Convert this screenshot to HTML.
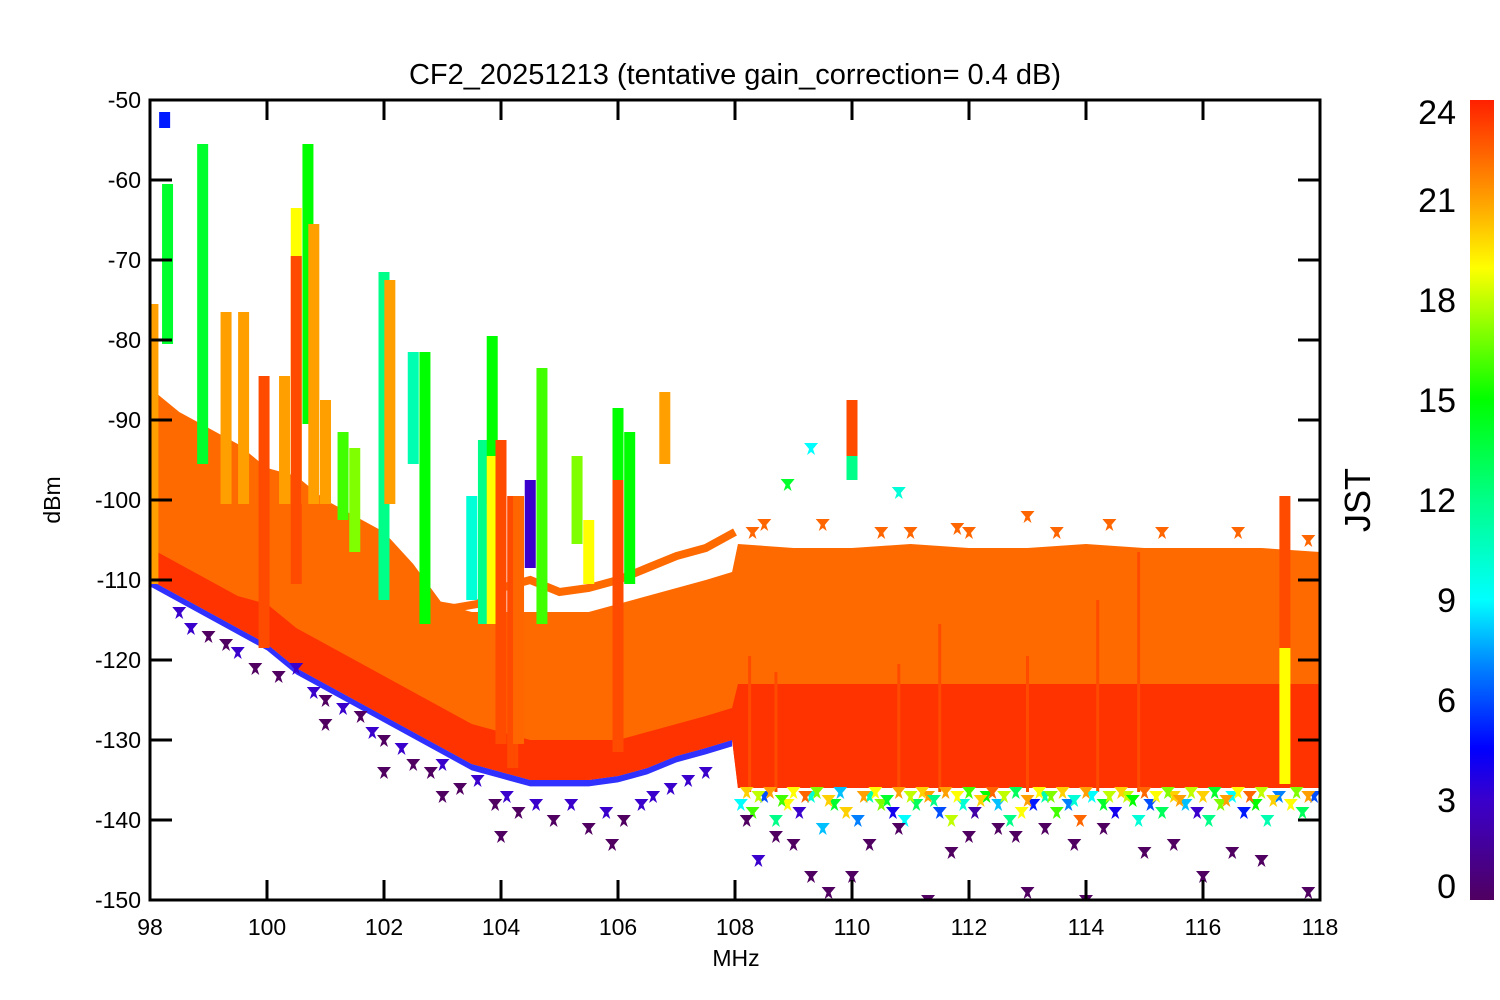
<!DOCTYPE html>
<html><head><meta charset="utf-8"><style>
html,body{margin:0;padding:0;background:#fff;}
svg{display:block;font-family:"Liberation Sans",sans-serif;}
</style></head><body>
<svg id="chart" width="1500" height="1000" viewBox="0 0 1500 1000">
<defs>
<linearGradient id="cbg" x1="0" y1="1" x2="0" y2="0">
<stop offset="0" stop-color="#500060"/><stop offset="0.125" stop-color="#3a00cc"/>
<stop offset="0.19" stop-color="#0000ff"/><stop offset="0.29" stop-color="#0080ff"/>
<stop offset="0.375" stop-color="#00ffff"/><stop offset="0.5" stop-color="#00ff88"/>
<stop offset="0.625" stop-color="#00ff00"/><stop offset="0.79" stop-color="#ffff00"/>
<stop offset="0.875" stop-color="#ffa000"/><stop offset="1" stop-color="#ff2000"/>
</linearGradient>
<clipPath id="pc"><rect x="150" y="100" width="1170" height="800"/></clipPath>
</defs>
<text x="735" y="84" text-anchor="middle" font-size="29">CF2_20251213 (tentative gain_correction=  0.4 dB)</text>
<g id="plot" clip-path="url(#pc)"></g>
<g id="axes"></g>
<rect x="1470" y="100" width="24" height="800" fill="url(#cbg)"/>
<text x="1370" y="500" text-anchor="middle" font-size="36" transform="rotate(-90 1370 500)">JST</text>
<text x="736" y="966" text-anchor="middle" font-size="23">MHz</text>
<text x="60" y="500" text-anchor="middle" font-size="23" transform="rotate(-90 60 500)">dBm</text>
</svg>
<script>
const freq=[98,98.5,99,99.5,100,100.5,101,101.5,102,102.5,103,103.5,104,104.5,105,105.5,106,106.5,107,107.5,107.95,108.05,109,110,111,112,113,114,115,116,117,118];
const orangeTop=[-86,-89,-91,-93,-96,-97,-100,-102,-104,-108,-113,-114,-114,-114,-114,-114,-113,-112,-111,-110,-109,-105.5,-106,-106,-105.5,-106,-106,-105.5,-106,-106,-106,-106.5];
const redTop=[-106,-108,-110,-112,-113,-116,-118,-120,-122,-124,-126,-128,-129,-130,-130,-130,-130,-129,-128,-127,-126,-123,-123,-123,-123,-123,-123,-123,-123,-123,-123,-123];
const redBottom=[-110,-112,-114,-116,-118,-121,-123,-125,-127,-129,-131,-133,-134,-135,-135,-135,-134.5,-133.5,-132,-131,-130,-136,-136,-136,-136,-136,-136,-136,-136,-136,-136,-136];
const arcFreq=[100.2,100.8,101.2,101.6,102.0,102.4,102.8,103.2,103.6,104,104.5,105,105.5,106,106.5,107,107.5,108];
const arcDbm=[-99,-100,-101.5,-103.5,-106.5,-110,-113,-113.5,-113,-111,-110,-111.5,-111,-110,-108.5,-107,-106,-104];
const spikeFreq=[98.05,98.25,98.3,98.9,99.3,99.6,99.95,100.3,100.5,100.5,100.7,100.8,101.0,101.3,101.5,102.0,102.1,102.5,102.7,103.5,103.7,103.85,103.85,104.0,104.2,104.3,104.5,104.7,105.3,105.5,106.0,106.0,106.2,106.8,110.0,110.0,117.4,117.4,108.25,108.7,110.8,111.5,113.0,114.2,114.9];
const spikeTop=[-76,-52,-61,-56,-77,-77,-85,-85,-64,-70,-56,-66,-88,-92,-94,-72,-73,-82,-82,-100,-93,-80,-95,-93,-100,-100,-98,-84,-95,-103,-98,-89,-92,-87,-88,-95,-100,-119,-120,-122,-121,-116,-120,-113,-107];
const spikeBottom=[-110,-53,-80,-95,-100,-100,-118,-100,-100,-110,-90,-100,-100,-102,-106,-112,-100,-95,-115,-112,-115,-100,-115,-130,-133,-130,-108,-115,-105,-110,-131,-97,-110,-95,-95,-97,-119,-135,-136,-136,-136,-136,-136,-136,-136];
const spikeHour=[21,5,14,14,21,21,23,21,19,23,15,21,21,16,17,12,21,11,15,10,12,15,19,23,23,22,3,16,17,19,23,15,15,21,23,12,23,19,23,23,23,23,23,23,23];
const outFreq=[98.5,98.7,99,99.3,99.5,99.8,100.2,100.5,100.8,101,101.3,101.6,101.8,102,102.3,102.5,102.8,103,103.3,103.6,103.9,104.1,104.3,104.6,104.9,105.2,105.5,105.8,106.1,106.4,106.6,106.9,107.2,107.5,103,102,101,104,105.9,108.2,108.4,108.7,109,109.3,109.6,110,110.3,110.8,111.3,111.7,112,112.5,113,113.3,113.8,114.3,115,115.5,116,116.5,117,117.8,112.8,114];
const outDbm=[-114,-116,-117,-118,-119,-121,-122,-121,-124,-125,-126,-127,-129,-130,-131,-133,-134,-133,-136,-135,-138,-137,-139,-138,-140,-138,-141,-139,-140,-138,-137,-136,-135,-134,-137,-134,-128,-142,-143,-140,-145,-142,-143,-147,-149,-147,-143,-141,-150,-144,-142,-141,-149,-141,-143,-141,-144,-143,-147,-144,-145,-149,-142,-150];
const outHour=[3,3,0,0,3,0,0,3,3,0,3,0,3,0,3,0,0,3,0,3,0,3,0,3,0,3,0,3,0,3,3,3,3,3,0,0,0,0,0,0,3,0,0,0,0,0,0,0,0,0,0,0,0,0,0,0,0,0,0,0,0,0,0,0];
const fringeFreq=[108.1,108.3,108.5,108.7,108.9,109.1,109.3,109.5,109.7,109.9,110.1,110.3,110.5,110.7,110.9,111.1,111.3,111.5,111.7,111.9,112.1,112.3,112.5,112.7,112.9,113.1,113.3,113.5,113.7,113.9,114.1,114.3,114.5,114.7,114.9,115.1,115.3,115.5,115.7,115.9,116.1,116.3,116.5,116.7,116.9,117.1,117.3,117.5,117.7,117.9,108.2,108.4,108.6,108.8,109.0,109.2,109.4,109.6,109.8,110.2,110.4,110.6,110.8,111.0,111.2,111.4,111.6,111.8,112.0,112.2,112.4,112.6,112.8,113.0,113.2,113.4,113.6,113.8,114.0,114.4,114.6,114.8,115.0,115.2,115.4,115.6,115.8,116.0,116.2,116.4,116.6,116.8,117.0,117.2,117.6,117.8];
const fringeDbm=[-138,-139,-137,-140,-138,-139,-137,-141,-138,-139,-140,-137,-138,-139,-140,-138,-137,-139,-140,-138,-139,-137,-138,-140,-139,-138,-137,-139,-138,-140,-137,-138,-139,-137,-140,-138,-139,-137,-138,-139,-140,-138,-137,-139,-138,-140,-137,-138,-139,-137,-136.5,-137,-136.5,-137.5,-136.5,-137,-136.5,-137.5,-136.5,-137,-136.5,-137.5,-136.5,-137,-136.5,-137.5,-136.5,-137,-136.5,-137.5,-136.5,-137,-136.5,-137.5,-136.5,-137,-136.5,-137.5,-136.5,-137,-136.5,-137.5,-136.5,-137,-136.5,-137.5,-136.5,-137,-136.5,-137.5,-136.5,-137,-136.5,-137.5,-136.5,-137];
const fringeHour=[9,16,6,12,19,3,10,8,14,20,7,11,17,4,9,13,21,6,18,10,2,15,8,12,19,5,11,16,7,22,9,14,4,18,10,6,13,20,8,3,12,17,9,5,15,11,7,19,13,6,20,18,21,16,19,22,17,20,8,21,19,14,21,18,20,12,21,19,16,20,22,18,13,21,19,17,20,10,21,18,20,15,22,19,17,21,18,20,14,21,19,22,18,20,17,21];
const bumpFreq=[108.5,108.9,109.3,109.5,110.5,110.8,111,112,113.5,114.4,115.3,116.6,117.8,108.3,111.8,113];
const bumpDbm=[-103,-98,-93.5,-103,-104,-99,-104,-104,-104,-103,-104,-104,-105,-104,-103.5,-102];
const bumpHour=[22,14,9,22,22,10,22,22,22,22,22,22,22,22,22,22];
const yTicks=[-50,-60,-70,-80,-90,-100,-110,-120,-130,-140,-150];
const xTicks=[98,100,102,104,106,108,110,112,114,116,118];
const cbTicks=[0,3,6,9,12,15,18,21,24];

const X=f=>150+(f-98)*1170/20;
const Y=d=>100+(-50-d)*8;
const NS="http://www.w3.org/2000/svg";
const plot=document.getElementById('plot'),axes=document.getElementById('axes'),svg=document.getElementById('chart');
const stops=[[0,[80,0,96]],[3,[58,0,204]],[4.5,[0,0,255]],[7,[0,128,255]],[9,[0,255,255]],[12,[0,255,136]],[15,[0,255,0]],[19,[255,255,0]],[21,[255,160,0]],[22,[255,102,0]],[24,[255,48,0]]];
function cmap(h){for(let i=1;i<stops.length;i++){if(h<=stops[i][0]){const a=stops[i-1],b=stops[i],t=(h-a[0])/(b[0]-a[0]);return 'rgb('+a[1].map((v,k)=>Math.round(v+(b[1][k]-v)*t)).join(',')+')';}}return 'rgb(255,48,0)';}
function mk(tag,attrs,parent){const e=document.createElementNS(NS,tag);for(const k in attrs)e.setAttribute(k,attrs[k]);parent.appendChild(e);return e;}
function marker(f,d,h,name){const x=X(f),y=Y(d);const e=mk('path',{d:`M${x-7},${y-5}L${x+7},${y-5}L${x+2},${y+1}L${x+4},${y+7}L${x},${y+4}L${x-4},${y+7}L${x-2},${y+1}Z`,fill:cmap(h)},plot);

}
let pts=freq.map((f,i)=>X(f)+','+Y(orangeTop[i]));pts=pts.concat(freq.map((f,i)=>X(f)+','+Y(redBottom[i])).reverse());
let og=mk('polygon',{points:pts.join(' '),fill:'#ff6a00'},plot);


const li=freq.indexOf(107.95);
let fp=freq.slice(0,li+1).map((f,i)=>X(f)+','+Y(redBottom[i]-0.8));fp=fp.concat(freq.slice(0,li+1).map((f,i)=>X(f)+','+Y(redBottom[i])).reverse());
let fg=mk('polygon',{points:fp.join(' '),fill:'#3030ff'},plot);


let rp=freq.map((f,i)=>X(f)+','+Y(redTop[i]));rp=rp.concat(freq.map((f,i)=>X(f)+','+Y(redBottom[i])).reverse());
let rg=mk('polygon',{points:rp.join(' '),fill:'#ff3300'},plot);


let arc=mk('polyline',{points:arcFreq.map((f,i)=>X(f)+','+Y(arcDbm[i])).join(' '),fill:'none',stroke:'#ff6a00','stroke-width':8},plot);


spikeFreq.forEach((f,i)=>{const w=i>=38?3:11;const r=mk('rect',{x:X(f)-w/2,y:Y(spikeTop[i])-4,width:w,height:Y(spikeBottom[i])-Y(spikeTop[i])+8,fill:cmap(spikeHour[i])},plot);

});
fringeFreq.forEach((f,i)=>marker(f,fringeDbm[i],fringeHour[i],'fringe-point'));
outFreq.forEach((f,i)=>marker(f,outDbm[i],outHour[i],'outlier-point'));
bumpFreq.forEach((f,i)=>marker(f,bumpDbm[i],bumpHour[i],'peak-point'));
let fr=mk('rect',{x:150,y:100,width:1170,height:800,fill:'none',stroke:'#000','stroke-width':3},axes);


yTicks.forEach(v=>{const y=Y(v);mk('line',{x1:150,x2:172,y1:y,y2:y,stroke:'#000','stroke-width':3},axes);mk('line',{x1:1298,x2:1320,y1:y,y2:y,stroke:'#000','stroke-width':3},axes);
const t=mk('text',{x:141,y:y+8,'text-anchor':'end','font-size':23},svg);t.textContent=v;

});
xTicks.forEach(v=>{const x=X(v);mk('line',{x1:x,x2:x,y1:900,y2:880,stroke:'#000','stroke-width':3},axes);mk('line',{x1:x,x2:x,y1:100,y2:120,stroke:'#000','stroke-width':3},axes);
const t=mk('text',{x:x,y:935,'text-anchor':'middle','font-size':23},svg);t.textContent=v;

});
cbTicks.forEach(v=>{let y=900-v*800/24+12;if(v===24)y=124;if(v===0)y=898;
const t=mk('text',{x:1456,y:y,'text-anchor':'end','font-size':34},svg);t.textContent=v;

});
</script>
</body></html>
